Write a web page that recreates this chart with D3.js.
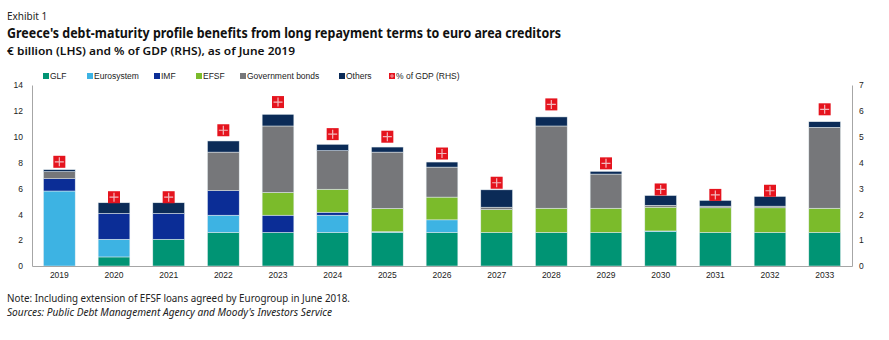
<!DOCTYPE html>
<html>
<head>
<meta charset="utf-8">
<script src="https://cdn.jsdelivr.net/npm/d3@7"></script>
<style>
  body { margin: 0; background: #fff; }
  svg { display: block; }
</style>
</head>
<body>
<svg></svg>
<script>
// chart data
var years = ["2019", "2020", "2021", "2022", "2023", "2024", "2025", "2026", "2027", "2028", "2029", "2030", "2031", "2032", "2033"];
var glf        = [0,    0.7,  2.07, 2.6,  2.6,  2.6,  2.6,  2.6,  2.6,  2.6,  2.6,  2.65, 2.6,  2.6,  2.6];
var eurosystem = [5.8,  1.37, 0,    1.33, 0,    1.33, 0.05, 0.97, 0,    0,    0,    0.06, 0,    0,    0];
var imf        = [0.95, 2.0,  2.0,  1.9,  1.33, 0.23, 0,    0,    0,    0,    0,    0,    0,    0,    0];
var efsf       = [0,    0,    0,    0,    1.76, 1.78, 1.8,  1.76, 1.77, 1.87, 1.87, 1.84, 1.9,  1.9,  1.87];
var govBonds   = [0.55, 0,    0,    2.98, 5.14, 2.98, 4.36, 2.32, 0.18, 6.36, 2.64, 0.15, 0.13, 0.13, 6.26];
var others     = [0.15, 0.82, 0.82, 0.86, 0.9,  0.49, 0.39, 0.39, 1.34, 0.7,  0.21, 0.75, 0.44, 0.75, 0.43];
var gdpPct     = [4.03, 2.66, 2.66, 5.25, 6.34, 5.1,  5.0,  4.35, 3.22, 6.25, 3.97, 2.96, 2.75, 2.91, 6.06];

var seriesNames = ["GLF", "Eurosystem", "IMF", "EFSF", "Government bonds", "Others"];
var seriesColors = ["#009474", "#3db3e3", "#0b2d96", "#7bbb2b", "#76777a", "#0b2b57"];
var leftTicks = [0, 2, 4, 6, 8, 10, 12, 14];
var rightTicks = [0, 1, 2, 3, 4, 5, 6, 7];

var width = 889;
var height = 340;

var svg = d3.select("svg")
  .attr("width", width)
  .attr("height", height);

var titleFont = "'Noto Sans', 'Open Sans', sans-serif";
var axisFont = "'Liberation Sans', Arial, sans-serif";

// headings
svg.append("text").attr("x", 7).attr("y", 19.5)
  .style("font-family", titleFont).style("font-size", "10px").attr("fill", "#222")
  .text("Exhibit 1");
svg.append("text").attr("x", 7).attr("y", 37.5)
  .style("font-family", titleFont).style("font-size", "14px").style("font-weight", "bold").attr("fill", "#111")
  .attr("textLength", 554).attr("lengthAdjust", "spacingAndGlyphs")
  .text("Greece's debt-maturity profile benefits from long repayment terms to euro area creditors");
svg.append("text").attr("x", 7).attr("y", 55)
  .style("font-family", titleFont).style("font-size", "11.5px").style("font-weight", 600).attr("fill", "#111")
  .attr("textLength", 288).attr("lengthAdjust", "spacingAndGlyphs")
  .text("€ billion (LHS) and % of GDP (RHS), as of June 2019");

// plot area
var plot = { left: 32, right: 852, top: 85, bottom: 266 };

var x = d3.scaleBand()
  .domain(years)
  .range([plot.left, plot.right])
  .paddingInner(0.42)
  .paddingOuter(0.21);

var yL = d3.scaleLinear().domain([0, 14]).range([plot.bottom, plot.top]);
var yR = d3.scaleLinear().domain([0, 7]).range([plot.bottom, plot.top]);

// stack the series
var table = years.map(function(y, i) {
  return {
    year: y,
    "GLF": glf[i],
    "Eurosystem": eurosystem[i],
    "IMF": imf[i],
    "EFSF": efsf[i],
    "Government bonds": govBonds[i],
    "Others": others[i]
  };
});
var stacked = d3.stack().keys(seriesNames)(table);

var barG = svg.append("g");
stacked.forEach(function(layer, k) {
  barG.append("g")
    .attr("fill", seriesColors[k])
    .selectAll("rect")
    .data(layer.filter(function(d) { return d[1] - d[0] > 0; }))
    .enter()
    .append("rect")
    .attr("x", function(d) { return x(d.data.year); })
    .attr("width", x.bandwidth())
    .attr("y", function(d) { return yL(d[1]); })
    .attr("height", function(d) { return yL(d[0]) - yL(d[1]); })
    .attr("stroke", "#e4ecef")
    .attr("stroke-width", 0.5);
});

// axes
var axisColor = "#a6a6a6";
var leftAxis = svg.append("g")
  .attr("transform", "translate(" + plot.left + ",0)")
  .call(d3.axisLeft(yL).tickValues(leftTicks).tickFormat(d3.format("d")).tickSize(0).tickPadding(9));
var rightAxis = svg.append("g")
  .attr("transform", "translate(" + plot.right + ",0)")
  .call(d3.axisRight(yR).tickValues(rightTicks).tickFormat(d3.format("d")).tickSize(0).tickPadding(7));
var bottomAxis = svg.append("g")
  .attr("transform", "translate(0," + plot.bottom + ")")
  .call(d3.axisBottom(x).tickSize(0).tickPadding(6));

[leftAxis, rightAxis, bottomAxis].forEach(function(a) {
  a.select(".domain").attr("stroke", axisColor).attr("stroke-width", 1);
  a.selectAll("text")
    .style("font-family", axisFont)
    .style("font-size", "8.5px")
    .attr("fill", "#222");
});

// % of GDP markers
var markers = svg.append("g").selectAll("g")
  .data(gdpPct)
  .enter()
  .append("g")
  .attr("transform", function(d, i) {
    return "translate(" + (x(years[i]) + x.bandwidth() / 2) + "," + yR(d) + ")";
  });
markers.append("rect")
  .attr("x", -6).attr("y", -6).attr("width", 12).attr("height", 12)
  .attr("fill", "#e5141e");
markers.append("path")
  .attr("d", "M0,-4.5V4.5M-4.5,0H4.5")
  .attr("stroke", "#f2b8bd")
  .attr("stroke-width", 1.2);

// legend
var legendItems = [
  { name: "GLF", color: seriesColors[0], x: 43 },
  { name: "Eurosystem", color: seriesColors[1], x: 87 },
  { name: "IMF", color: seriesColors[2], x: 154 },
  { name: "EFSF", color: seriesColors[3], x: 196 },
  { name: "Government bonds", color: seriesColors[4], x: 240 },
  { name: "Others", color: seriesColors[5], x: 339 },
  { name: "% of GDP (RHS)", color: "#e5141e", x: 389, marker: true }
];
var legend = svg.append("g").selectAll("g")
  .data(legendItems)
  .enter()
  .append("g")
  .attr("transform", function(d) { return "translate(" + d.x + ",76)"; });
legend.append("rect")
  .attr("x", 0).attr("y", -3).attr("width", 6).attr("height", 6)
  .attr("fill", function(d) { return d.color; });
legend.filter(function(d) { return d.marker; })
  .append("path")
  .attr("d", "M3,-2V2M1,0H5")
  .attr("stroke", "#f2b8bd")
  .attr("stroke-width", 0.8);
legend.append("text")
  .attr("x", 7).attr("y", 3)
  .style("font-family", axisFont)
  .style("font-size", "8.5px")
  .attr("fill", "#222")
  .text(function(d) { return d.name; });

// notes
svg.append("text").attr("x", 7).attr("y", 302)
  .style("font-family", titleFont).style("font-size", "10.5px").attr("fill", "#222")
  .attr("textLength", 343).attr("lengthAdjust", "spacingAndGlyphs")
  .text("Note: Including extension of EFSF loans agreed by Eurogroup in June 2018.");
svg.append("text").attr("x", 7).attr("y", 316)
  .style("font-family", titleFont).style("font-size", "10.5px").style("font-style", "italic").attr("fill", "#222")
  .attr("textLength", 325).attr("lengthAdjust", "spacingAndGlyphs")
  .text("Sources: Public Debt Management Agency and Moody's Investors Service");
</script>
</body>
</html>
